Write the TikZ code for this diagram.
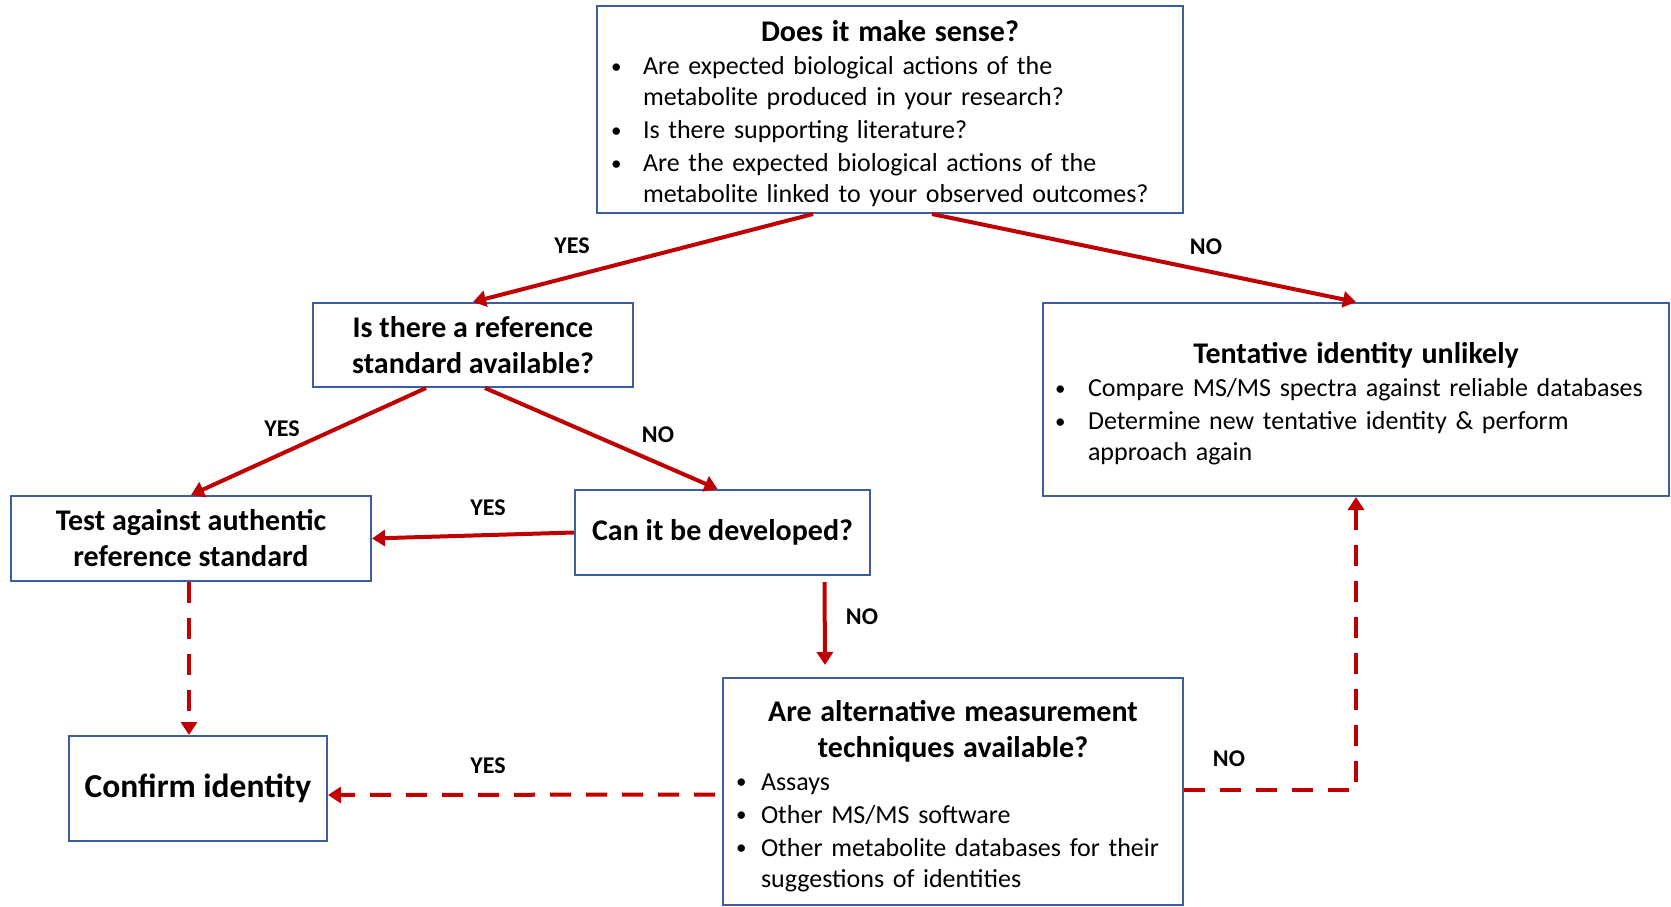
\documentclass[tikz,border=0pt]{standalone}
\usepackage{fontspec}
\setmainfont{Carlito}
\usepackage{tikz}
\usetikzlibrary{arrows.meta,calc,positioning}

\definecolor{boxblue}{RGB}{60,94,160}
\definecolor{flowred}{RGB}{192,0,0}

\newcommand{\bitem}[2]{\par\vspace{2pt}\hangindent=#1\hangafter=1\noindent\hbox to #1{\raisebox{1.5pt}{\fontsize{21}{21}\selectfont\textbullet}\hfil}#2}
\newcommand{\btitle}[1]{{\centering\bfseries\fontsize{30}{36}\selectfont\rule{0pt}{30pt}#1\par}}

\begin{document}
\begin{tikzpicture}[x=1pt,y=-1pt]
\tikzstyle{every node}+=[inner sep=0pt]
\tikzstyle{qbox}=[draw=boxblue, line width=2pt, fill=white, font=\bfseries\fontsize{30}{36}\selectfont]
\tikzstyle{lbox}=[qbox, font=\fontsize{26}{31}\selectfont]
\tikzstyle{flow}=[draw=flowred, line width=4pt, -{Triangle[width=16pt,length=13pt]}]
\tikzstyle{flowdash}=[flow, dash pattern=on 21pt off 15pt]
\tikzstyle{lbl}=[font=\bfseries\fontsize{24}{28}\selectfont]
\useasboundingbox (0,0) rectangle (1671,906);
% boxes
\node[lbox, minimum width=586pt, minimum height=207pt, text width=558pt, inner xsep=14pt] (sense) at (890,109.5) {\raggedright
  \btitle{Does it make sense?}
  \bitem{32pt}{Are expected biological actions of the\newline metabolite produced in your research?}
  \bitem{32pt}{Is there supporting literature?}
  \bitem{32pt}{Are the expected biological actions of the\newline metabolite linked to your observed outcomes?}\par};
\node[qbox, minimum width=320pt, minimum height=84pt, align=center] (refstd) at (473,345) {Is there a reference\\standard available?};
\node[qbox, minimum width=360pt, minimum height=85pt, align=center] (test) at (191,538.5) {Test against authentic\\reference standard};
\node[qbox, minimum width=295pt, minimum height=85pt] (develop) at (722.5,532.5) {Can it be developed?};
\node[lbox, minimum width=626pt, minimum height=193pt, text width=602pt, inner xsep=12pt] (tent) at (1356,399.5) {\raggedright
  \btitle{Tentative identity unlikely}
  \bitem{33pt}{Compare MS/MS spectra against reliable databases}
  \bitem{33pt}{Determine new tentative identity \& perform\newline approach again}\par};
\node[qbox, minimum width=258pt, minimum height=105pt, font=\bfseries\fontsize{33.5}{40}\selectfont] (confirm) at (198,788.5) {Confirm identity};
\node[lbox, minimum width=460pt, minimum height=227pt, text width=434pt, inner xsep=13pt] (alt) at (953,791.5) {\raggedright
  \btitle{Are alternative measurement\\techniques available?}
  \bitem{25pt}{Assays}
  \bitem{25pt}{Other MS/MS software}
  \bitem{25pt}{Other metabolite databases for their\newline suggestions of identities}\par};
% arrows
\draw[flow] ($(sense.south)+(-77,0)$) -- (refstd.north);
\draw[flow] ($(sense.south)+(42,0)$) -- (tent.north);
\draw[flow] ($(refstd.south)+(-47,0)$) -- (test.north);
\draw[flow] ($(refstd.south)+(12,0)$) -- ($(develop.north)+(-5,0)$);
\draw[flow] (develop.west) -- (test.east);
\draw[flow] ($(develop.south)+(102,6)$) -- ($(alt.north west)+(103,-12)$);
\draw[flowdash] ($(test.south)+(-2,0)$) -- ($(test.south |- confirm.north)+(-2,0)$);
\draw[flowdash] ($(alt.west)+(-7,3)$) -- ($(confirm.east)+(0,6.5)$);
\draw[flowdash] ($(alt.east)+(0,-1.5)$) -| (tent.south);
% labels
\node[lbl] (y1) at (572,246) {YES};
\node[lbl] (n1) at (1206,247) {NO};
\node[lbl] (y2) at (282,429) {YES};
\node[lbl] (n2) at (658,435) {NO};
\node[lbl] (y3) at (488,508) {YES};
\node[lbl] (n3) at (862,617) {NO};
\node[lbl] (y4) at (488,766) {YES};
\node[lbl] (n4) at (1229,759) {NO};
\end{tikzpicture}
\end{document}
